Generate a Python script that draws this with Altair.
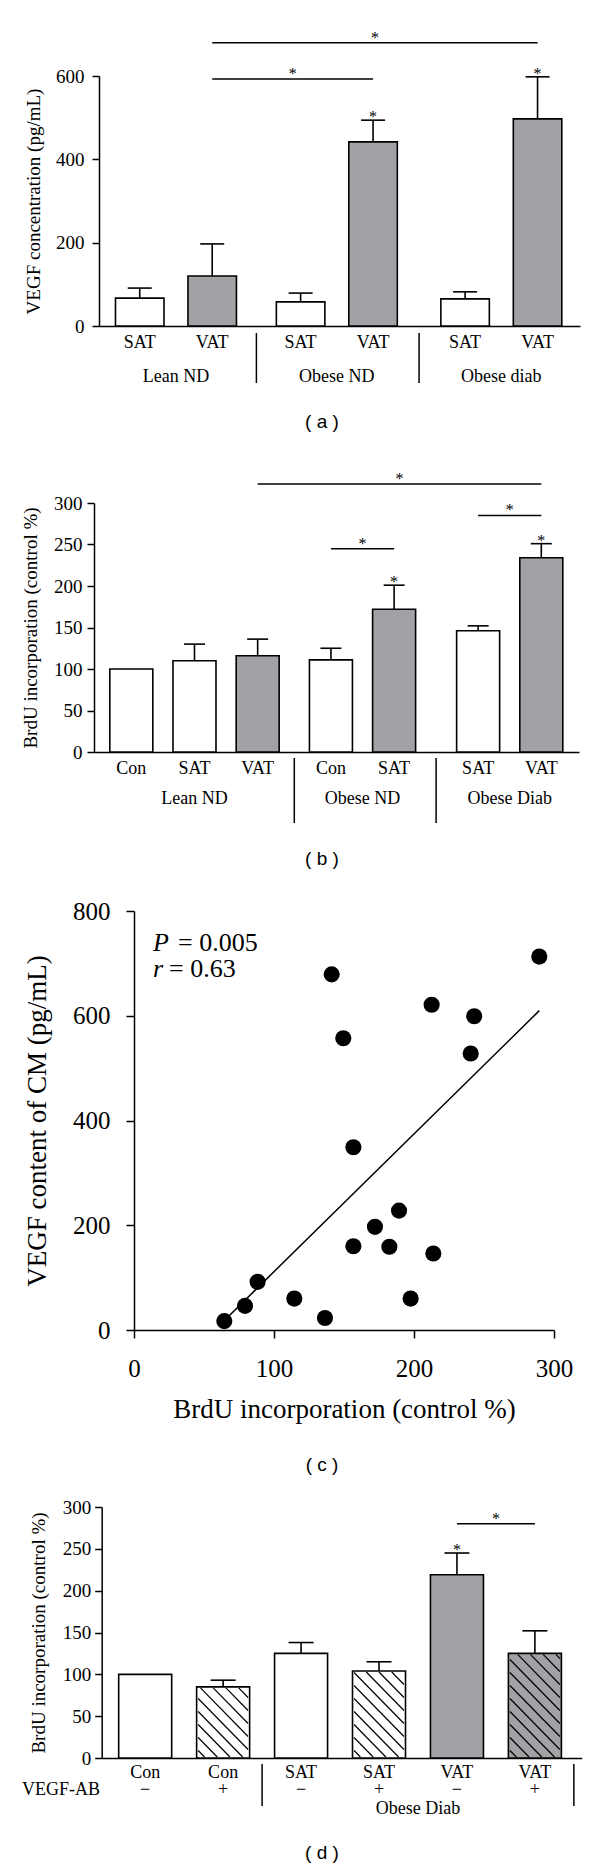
import altair as alt
import pandas as pd

SERIF = "Liberation Serif"
SANS = "Liberation Sans"
GRAY = "#a2a2a6"
INK = "black"

# ---------------- panel (a): VEGF concentration ----------------
a_group = ["Lean ND", "Lean ND", "Obese ND", "Obese ND", "Obese diab", "Obese diab"]
a_label = ["SAT", "VAT", "SAT", "VAT", "SAT", "VAT"]
a_kind = ["open", "filled", "open", "filled", "open", "filled"]
a_mean = [67, 120, 58, 442, 65, 497]
a_err = [24, 77, 21, 52, 17, 101]
a_star = ["", "", "", "*", "", "*"]
a_brackets = [(1, 3, 593), (1, 5, 680)]
a_yticks = [0, 200, 400, 600]

# ---------------- panel (b): BrdU incorporation ----------------
b_group = ["Lean ND", "Lean ND", "Lean ND", "Obese ND", "Obese ND", "Obese Diab", "Obese Diab"]
b_label = ["Con", "SAT", "VAT", "Con", "SAT", "SAT", "VAT"]
b_kind = ["open", "open", "filled", "open", "filled", "open", "filled"]
b_mean = [100, 110, 116, 111, 172, 146, 234]
b_err = [0, 20, 20, 14, 29, 6, 17]
b_star = ["", "", "", "", "*", "", "*"]
b_brackets = [(2, 6, 323), (3, 4, 245), (5, 6, 285)]
b_yticks = [0, 50, 100, 150, 200, 250, 300]

# ---------------- panel (c): scatter ----------------
c_brdu = [64.5, 79.3, 88.3, 114.5, 136.4, 141.2, 149.5, 156.7, 156.7,
          172.1, 182.4, 189.3, 197.6, 212.6, 213.8, 240.5, 243.0, 289.5]
c_vegf = [17, 46, 92, 60, 23, 679, 557, 349, 160,
          197, 159, 228, 60, 621, 146, 528, 599, 713]
c_xticks = [0, 100, 200, 300]
c_yticks = [0, 200, 400, 600, 800]
c_stat_sym = ["P", "r"]
c_stat_val = ["= 0.005", "= 0.63"]

# ---------------- panel (d): VEGF antibody ----------------
d_group = ["Con", "Con", "Obese Diab", "Obese Diab", "Obese Diab", "Obese Diab"]
d_label = ["Con", "Con", "SAT", "SAT", "VAT", "VAT"]
d_ab = ["\u2212", "+", "\u2212", "+", "\u2212", "+"]
d_kind = ["open", "open", "open", "open", "filled", "filled"]
d_mean = [100, 85, 125, 104, 219, 125]
d_err = [0, 8, 13, 11, 26, 27]
d_star = ["", "", "", "", "*", ""]
d_brackets = [(4, 5, 280)]
d_yticks = [0, 50, 100, 150, 200, 250, 300]

# ---------------- layout (pixels) ----------------
LAY_A = dict(off=5, w=481, h=250, top=0, ymax=600, step=74, first=36.5, gaps=[0.22, 0.27],
             bar=48.5, cap=24, lpad=8, tx=-65.5, sep=(257, 307), laby=267, grpy=301,
             tagy=346, show=None, trailing=False)
LAY_B = dict(off=0, w=485, h=267, top=18, ymax=300, step=64.5, first=33, gaps=[0.16, 0.33],
             bar=43, cap=21, lpad=5, tx=-63.5, sep=(273, 338), laby=284, grpy=314,
             tagy=374, show=None, trailing=False)
LAY_D = dict(off=7.7, w=480, h=269, top=18, ymax=300, step=79.6, first=39.3, gaps=[0.0],
             bar=53, cap=25, lpad=4, tx=-63.5, sep=(275, 317), laby=284, grpy=320,
             tagy=364, show=["Obese Diab"], trailing=True, signy=301)
TAG_X = 228


def text_df(s):
    return pd.DataFrame({"t": [s]})


def bar_panel(groups, labels, kinds, means, errs, stars, brackets, yticks, ytitle, tag, L, signs=None):
    n = len(labels)
    pos, off, gi = [], 0.0, 0
    for i in range(n):
        if i > 0 and groups[i] != groups[i - 1]:
            off += L["gaps"][gi]
            gi += 1
        pos.append(i + off)
    df = pd.DataFrame({"pos": pos, "label": labels, "group": groups, "kind": kinds,
                       "mean": means, "err": errs, "star": stars})
    df["upper"] = df["mean"] + df["err"]
    if signs is not None:
        df["ab"] = signs

    step = L["step"]
    d0 = -L["first"] / step
    d1 = d0 + L["w"] / step
    ph = L["h"] - L["top"]
    ppy = ph / L["ymax"]

    xsc = alt.Scale(domain=[d0, d1], range=[L["off"], L["off"] + L["w"]], nice=False, zero=False)
    ysc = alt.Scale(domain=[0, L["ymax"]], range=[L["h"], L["top"]], nice=False, zero=True)
    xax = alt.Axis(labels=False, ticks=False, grid=False, domainColor=INK, domainWidth=1.5)
    yax = alt.Axis(values=yticks, grid=False, domainColor=INK, domainWidth=1.5,
                   tickColor=INK, tickWidth=1.5, tickSize=7,
                   labelFont=SERIF, labelFontSize=19, labelColor=INK,
                   labelPadding=L["lpad"], labelFlush=False,
                   title=ytitle, titleFont=SERIF, titleFontSize=19, titleFontWeight="normal",
                   titleColor=INK, titleX=L["tx"], titleY=L["top"] + ph / 2,
                   titleBaseline="middle", offset=-L["off"])

    def X(f):
        return alt.X(f"{f}:Q", scale=xsc, axis=xax, title=None)

    def Y(f):
        return alt.Y(f"{f}:Q", scale=ysc, axis=yax)

    base = alt.Chart(df)
    fill = alt.Fill("kind:N", scale=alt.Scale(domain=["open", "filled"], range=["white", GRAY]),
                    legend=None)
    layers = [base.mark_bar(size=L["bar"], stroke=INK, strokeWidth=1.6)
              .encode(x=X("pos"), y=Y("mean"), fill=fill)]

    # hatching for antibody-treated bars
    if signs is not None:
        rows = []
        hs = 13.0
        for p, m, s in zip(pos, means, signs):
            if s != "+":
                continue
            xc = (p - d0) * step
            x0, x1 = xc - L["bar"] / 2 + 1, xc + L["bar"] / 2 - 1
            yt, yb = ph - m * ppy + 1, ph - 1
            c = x0 - yb + hs / 2
            while c < x1 - yt:
                xa, xb = max(x0, yt + c), min(x1, yb + c)
                if xb > xa:
                    rows.append({"hx": d0 + xa / step, "hy": (ph - (xa - c)) / ppy,
                                 "hx2": d0 + xb / step, "hy2": (ph - (xb - c)) / ppy})
                c += hs
        hdf = pd.DataFrame(rows)
        layers.append(alt.Chart(hdf).mark_rule(color=INK, strokeWidth=1.2)
                      .encode(x=X("hx"), y=Y("hy"), x2="hx2", y2="hy2"))

    ebase = base.transform_filter("datum.err > 0")
    layers.append(ebase.mark_rule(color=INK, strokeWidth=1.6)
                  .encode(x=X("pos"), y=Y("mean"), y2="upper"))
    layers.append(ebase.mark_tick(orient="horizontal", size=L["cap"], thickness=1.6,
                                  color=INK, opacity=1)
                  .encode(x=X("pos"), y=Y("upper")))
    layers.append(base.transform_filter("datum.star != ''")
                  .mark_text(font=SERIF, fontSize=16, baseline="alphabetic", dy=2, color=INK)
                  .encode(x=X("pos"), y=Y("upper"), text="star:N"))

    br = pd.DataFrame([{"x": pos[i], "x2": pos[j], "mid": (pos[i] + pos[j]) / 2,
                        "level": lv, "s": "*"} for i, j, lv in brackets])
    layers.append(alt.Chart(br).mark_rule(color=INK, strokeWidth=1.5)
                  .encode(x=X("x"), x2="x2", y=Y("level")))
    layers.append(alt.Chart(br).mark_text(font=SERIF, fontSize=16, baseline="alphabetic", color=INK)
                  .encode(x=X("mid"), y=Y("level"), text="s:N"))

    layers.append(base.mark_text(font=SERIF, fontSize=18, baseline="middle", color=INK)
                  .encode(x=X("pos"), y=alt.value(L["laby"]), text="label:N"))
    if signs is not None:
        layers.append(base.mark_text(font=SERIF, fontSize=18, baseline="middle", color=INK)
                      .encode(x=X("pos"), y=alt.value(L["signy"]), text="ab:N"))
        layers.append(alt.Chart(text_df("VEGF-AB"))
                      .mark_text(font=SERIF, fontSize=18, baseline="middle", align="right", color=INK)
                      .encode(x=alt.value(6), y=alt.value(L["signy"]), text="t:N"))

    gdf = df.groupby("group", sort=False)["pos"].mean().reset_index()
    if L["show"] is not None:
        gdf = gdf[gdf["group"].isin(L["show"])]
    layers.append(alt.Chart(gdf).mark_text(font=SERIF, fontSize=18, baseline="middle", color=INK)
                  .encode(x=X("pos"), y=alt.value(L["grpy"]), text="group:N"))

    seps = [(pos[i - 1] + pos[i]) / 2 for i in range(1, n) if groups[i] != groups[i - 1]]
    if L["trailing"]:
        seps.append(pos[-1] + 0.5)
    layers.append(alt.Chart(pd.DataFrame({"x": seps})).mark_rule(color=INK, strokeWidth=1.5)
                  .encode(x=X("x"), y=alt.value(L["sep"][0]), y2=alt.value(L["sep"][1])))

    layers.append(alt.Chart(text_df(tag)).mark_text(font=SANS, fontSize=19, baseline="middle", color=INK)
                  .encode(x=alt.value(TAG_X), y=alt.value(L["tagy"]), text="t:N"))

    return alt.layer(*layers).properties(width=L["off"] + L["w"], height=L["h"])


def scatter_panel():
    off, W, H = 40, 420, 419
    df = pd.DataFrame({"brdu": c_brdu, "vegf": c_vegf})
    xsc = alt.Scale(domain=[0, 300], range=[off, off + W], nice=False, zero=False)
    ysc = alt.Scale(domain=[0, 800], nice=False)
    xax = alt.Axis(values=c_xticks, grid=False, domainColor=INK, domainWidth=1.5,
                   tickColor=INK, tickWidth=1.5, tickSize=8,
                   labelFont=SERIF, labelFontSize=25, labelColor=INK, labelPadding=18,
                   labelFlush=False, title="BrdU incorporation (control %)",
                   titleFont=SERIF, titleFontSize=27, titleFontWeight="normal", titleColor=INK,
                   titleY=79, titleBaseline="middle")
    yax = alt.Axis(values=c_yticks, grid=False, domainColor=INK, domainWidth=1.5,
                   tickColor=INK, tickWidth=1.5, tickSize=8,
                   labelFont=SERIF, labelFontSize=25, labelColor=INK, labelPadding=16,
                   labelFlush=False, title="VEGF content of CM (pg/mL)",
                   titleFont=SERIF, titleFontSize=27, titleFontWeight="normal", titleColor=INK,
                   titleX=-97, titleY=H / 2, titleBaseline="middle", offset=-off)
    X = alt.X("brdu:Q", scale=xsc, axis=xax)
    Y = alt.Y("vegf:Q", scale=ysc, axis=yax)
    base = alt.Chart(df)
    layers = [
        base.mark_circle(size=260, color=INK, opacity=1).encode(x=X, y=Y),
        base.transform_regression("brdu", "vegf").mark_line(color=INK, strokeWidth=1.5).encode(x=X, y=Y),
    ]
    val_x = [84, 75]
    row_y = [32, 58]
    for k, (sym, val) in enumerate(zip(c_stat_sym, c_stat_val)):
        layers.append(alt.Chart(text_df(sym))
                      .mark_text(font=SERIF, fontSize=26, fontStyle="italic", align="left",
                                 baseline="middle", color=INK)
                      .encode(x=alt.value(59), y=alt.value(row_y[k]), text="t:N"))
        layers.append(alt.Chart(text_df(val))
                      .mark_text(font=SERIF, fontSize=26, align="left", baseline="middle", color=INK)
                      .encode(x=alt.value(val_x[k]), y=alt.value(row_y[k]), text="t:N"))
    layers.append(alt.Chart(text_df("( c )")).mark_text(font=SANS, fontSize=19, baseline="middle", color=INK)
                  .encode(x=alt.value(TAG_X), y=alt.value(554), text="t:N"))
    return alt.layer(*layers).properties(width=off + W, height=H)


A = bar_panel(a_group, a_label, a_kind, a_mean, a_err, a_star, a_brackets, a_yticks,
              "VEGF concentration (pg/mL)", "( a )", LAY_A)
B = bar_panel(b_group, b_label, b_kind, b_mean, b_err, b_star, b_brackets, b_yticks,
              "BrdU incorporation (control %)", "( b )", LAY_B)
C = scatter_panel()
D = bar_panel(d_group, d_label, d_kind, d_mean, d_err, d_star, d_brackets, d_yticks,
              "BrdU incorporation (control %)", "( d )", LAY_D, signs=d_ab)

chart = (
    alt.vconcat(A, B, C, D, spacing=159, bounds="flush")
    .properties(padding={"left": 13, "top": 21, "right": 5, "bottom": 5})
    .configure_view(stroke=None)
)

chart.save("out.html", embed_options={"renderer": "svg", "actions": False})
